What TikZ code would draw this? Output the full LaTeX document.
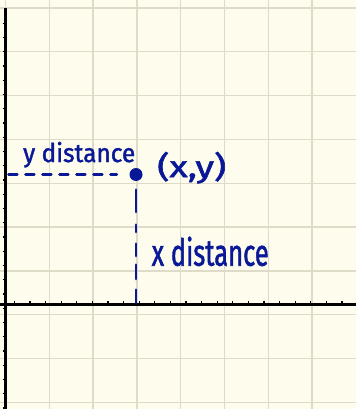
\documentclass[tikz,border=0pt]{standalone}
\usepackage{fontspec}
\setmainfont{Fira Sans}
\newfontfamily\inkfont[FakeBold=1.6]{Fira Sans}
\usepackage{graphicx}
\definecolor{paper}{RGB}{254,252,237}
\definecolor{gridc}{RGB}{222,219,200}
\definecolor{ink}{RGB}{8,24,150}
\begin{document}
\begin{tikzpicture}[x=1pt,y=-1pt,
  gridline/.style={draw=gridc,line width=1.4pt},
  axis/.style={draw=black,line width=3.3pt},
  tick/.style={draw=black,line width=1.2pt},
  inklabel/.style={text=ink,inner sep=0pt,font=\inkfont},
  guide/.style={draw=ink,line width=2.7pt,line cap=round}]
\fill[paper] (0,0) rectangle (356,409);
\useasboundingbox (0,0) rectangle (356,409);
% grid
\foreach \gx in {5.5,49.3,93.1,136.9,180.7,224.5,268.3,312.1}
  \draw[gridline] (\gx,0) -- (\gx,409);
\foreach \gy in {8,51.8,95.6,139.4,183.2,227,270.8,314.6,358.4,402.2}
  \draw[gridline] (0,\gy) -- (356,\gy);
% axes
\draw[axis] (5.5,8) -- (5.5,409);
\draw[axis] (0,304.3) -- (356,304.3);
\foreach \k in {0,...,27}
  \draw[tick] (2.5,23.3+14.25*\k) -- (5.5,23.3+14.25*\k);
\foreach \k in {0,...,22}
  \draw[tick] (14.3+15.6*\k,301.3) -- (14.3+15.6*\k,304.3);
% point
\node[circle,fill=ink,minimum size=13pt,inner sep=0pt] (pt) at (136,174.5) {};
\coordinate (ystart) at (8.5,174.5);
\coordinate (foot) at (136,302.7);
\draw[guide,dash pattern=on 8.8pt off 8.2pt,shorten >=12.5pt] (ystart) -- (pt);
\draw[guide,dash pattern=on 22.3pt off 12.7pt on 7.3pt off 11.7pt on 12.3pt off 8.7pt on 14.3pt off 10.7pt on 16pt off 5pt,shorten <=8.5pt] (pt) -- (foot);
% labels
\node[inklabel,anchor=north west] (ylab) at (23,141.7) {\resizebox*{112pt}{25.6pt}{y distance}};
\node[inklabel,anchor=north west] (xy) at (157,151.7) {\resizebox*{69pt}{31.6pt}{(x,y)}};
\node[inklabel,anchor=base west] (xlab) at (151.5,265.7) {\resizebox{117pt}{29pt}{x distance}};
\end{tikzpicture}
\end{document}
